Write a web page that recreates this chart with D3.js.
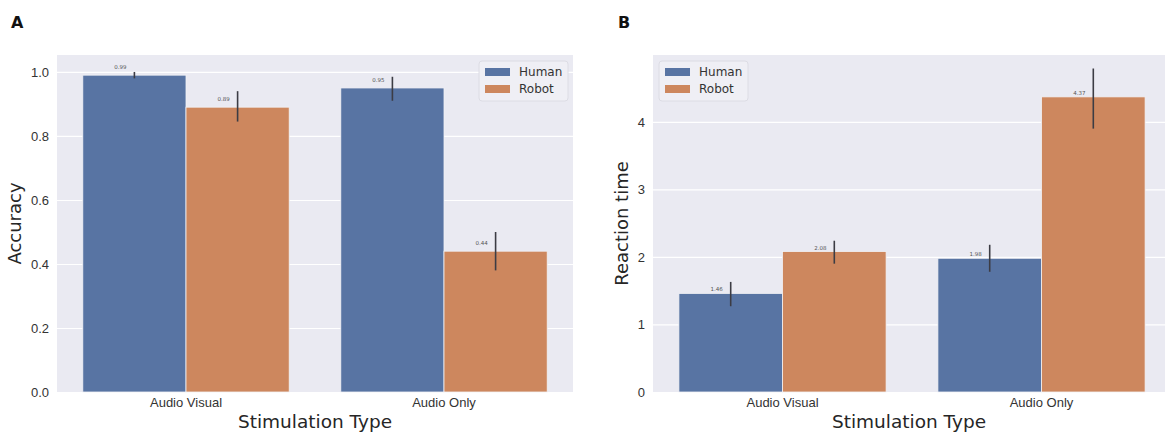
<!DOCTYPE html>
<html>
<head>
<meta charset="utf-8">
<script src="https://cdn.jsdelivr.net/npm/d3@7"></script>
<style>
  body { margin: 0; background: #fff; }
  svg { font-family: "DejaVu Sans", sans-serif; }
</style>
</head>
<body>
<svg id="chart" width="1165" height="433"></svg>
<script>
// categories and series
var categories = ["Audio Visual", "Audio Only"];
var groups = ["Human", "Robot"];

// panel A - accuracy
var accHuman = [0.99, 0.95];
var accRobot = [0.89, 0.44];
var accHumanCI = [[0.98, 1.0], [0.91, 0.985]];
var accRobotCI = [[0.845, 0.94], [0.38, 0.50]];
var accTicks = [0.0, 0.2, 0.4, 0.6, 0.8, 1.0];

// panel B - reaction time
var rtHuman = [1.46, 1.98];
var rtRobot = [2.08, 4.37];
var rtHumanCI = [[1.27, 1.63], [1.78, 2.18]];
var rtRobotCI = [[1.90, 2.24], [3.90, 4.79]];
var rtTicks = [0, 1, 2, 3, 4];

var colors = {Human: "#5874a3", Robot: "#cd875e"};

var svg = d3.select("#chart");

function drawPanel(p) {
	var g = svg.append("g");

	var x = d3.scaleBand()
		.domain(categories)
		.range([p.left, p.right]);

	var xg = d3.scaleBand()
		.domain(groups)
		.range([0, x.bandwidth()])
		.paddingOuter(0.25);

	var y = d3.scaleLinear()
		.domain(p.ydomain)
		.range([p.bottom, p.top]);

	// background
	g.append("rect")
		.attr("x", p.left)
		.attr("y", p.top)
		.attr("width", p.right - p.left)
		.attr("height", p.bottom - p.top)
		.attr("fill", "#eaeaf2");

	// grid + y ticks
	var yAxis = g.append("g")
		.attr("transform", "translate(" + p.left + ",0)")
		.call(d3.axisLeft(y).tickValues(p.ticks).tickFormat(p.fmt).tickSize(0).tickPadding(8));
	yAxis.select(".domain").remove();
	yAxis.selectAll("text").attr("font-size", 13).attr("fill", "#333");
	yAxis.selectAll(".tick")
		.append("line")
		.attr("x1", 0)
		.attr("x2", p.right - p.left)
		.attr("stroke", "#fff")
		.attr("stroke-width", 1.2);

	// rows of data
	var rows = [];
	categories.forEach(function(c, i) {
		rows.push({cat: c, grp: "Human", v: p.human[i], ci: p.humanCI[i]});
		rows.push({cat: c, grp: "Robot", v: p.robot[i], ci: p.robotCI[i]});
	});

	g.selectAll("rect.bar")
		.data(rows)
		.enter()
		.append("rect")
		.attr("class", "bar")
		.attr("x", function(d) { return x(d.cat) + xg(d.grp); })
		.attr("y", function(d) { return y(d.v); })
		.attr("width", xg.bandwidth())
		.attr("height", function(d) { return y(0) - y(d.v); })
		.attr("fill", function(d) { return colors[d.grp]; })
		.attr("stroke", "#f2f2f6")
		.attr("stroke-width", 0.8);

	// error bars
	g.selectAll("line.err")
		.data(rows)
		.enter()
		.append("line")
		.attr("class", "err")
		.attr("x1", function(d) { return x(d.cat) + xg(d.grp) + xg.bandwidth() / 2; })
		.attr("x2", function(d) { return x(d.cat) + xg(d.grp) + xg.bandwidth() / 2; })
		.attr("y1", function(d) { return y(d.ci[0]); })
		.attr("y2", function(d) { return y(d.ci[1]); })
		.attr("stroke", "#3c3c44")
		.attr("stroke-width", 1.6);

	// value labels
	g.selectAll("text.val")
		.data(rows)
		.enter()
		.append("text")
		.attr("class", "val")
		.attr("x", function(d) { return x(d.cat) + xg(d.grp) + xg.bandwidth() / 2 - 14; })
		.attr("y", function(d) { return y(d.v) - p.labelOffset; })
		.attr("text-anchor", "middle")
		.attr("font-size", 5.5)
		.attr("fill", "#555")
		.text(function(d) { return d3.format(".2f")(d.v); });

	// x axis
	var xAxis = g.append("g")
		.attr("transform", "translate(0," + p.bottom + ")")
		.call(d3.axisBottom(x).tickSize(0).tickPadding(6));
	xAxis.select(".domain").remove();
	xAxis.selectAll("text").attr("font-size", 13).attr("fill", "#333");

	g.append("text")
		.attr("x", (p.left + Math.min(p.right, 1165)) / 2)
		.attr("y", 428)
		.attr("text-anchor", "middle")
		.attr("font-size", 18.5)
		.attr("fill", "#262626")
		.text("Stimulation Type");

	g.append("text")
		.attr("transform", "translate(" + p.yLabelX + "," + ((p.top + p.bottom) / 2) + ") rotate(-90)")
		.attr("text-anchor", "middle")
		.attr("font-size", 18)
		.attr("fill", "#262626")
		.text(p.ylabel);

	// panel letter
	g.append("text")
		.attr("x", p.letterX)
		.attr("y", 28)
		.attr("font-size", 16)
		.attr("font-weight", "bold")
		.attr("fill", "#111")
		.text(p.letter);

	// legend
	var lg = g.append("g")
		.attr("transform", "translate(" + p.legendX + "," + (p.top + 6) + ")");
	lg.append("rect")
		.attr("width", 89)
		.attr("height", 40)
		.attr("rx", 3)
		.attr("fill", "#efeff5")
		.attr("stroke", "#dcdce4");
	groups.forEach(function(k, i) {
		lg.append("rect")
			.attr("x", 6)
			.attr("y", 7 + i * 17)
			.attr("width", 25)
			.attr("height", 8)
			.attr("fill", colors[k]);
		lg.append("text")
			.attr("x", 40)
			.attr("y", 15 + i * 17)
			.attr("font-size", 12)
			.attr("fill", "#333")
			.text(k);
	});
}

drawPanel({
	left: 57, right: 573, top: 55, bottom: 392,
	ydomain: [0, 1.053], ticks: accTicks, fmt: d3.format(".1f"),
	human: accHuman, robot: accRobot, humanCI: accHumanCI, robotCI: accRobotCI,
	labelOffset: 6, ylabel: "Accuracy", yLabelX: 21, letter: "A", letterX: 11,
	legendX: 479
});

drawPanel({
	left: 653, right: 1171, top: 55, bottom: 392,
	ydomain: [0, 4.99], ticks: rtTicks, fmt: d3.format("d"),
	human: rtHuman, robot: rtRobot, humanCI: rtHumanCI, robotCI: rtRobotCI,
	labelOffset: 2, ylabel: "Reaction time", yLabelX: 628, letter: "B", letterX: 618,
	legendX: 659
});
</script>
</body>
</html>
